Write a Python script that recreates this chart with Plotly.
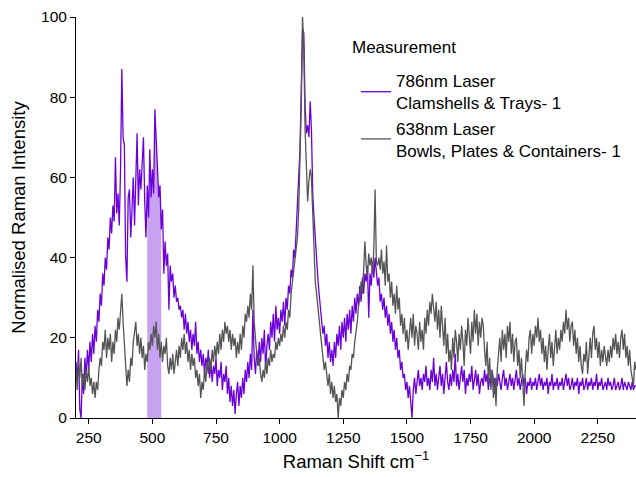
import plotly.graph_objects as go

# Raman shift axis (cm^-1), sampled every 5 cm^-1 from 200 to 2400
shift_start = 200
shift_step = 5

# 786nm laser - Clamshells & Trays- 1 (normalised intensity)
clamshells_786 = [
    14, 9, 17, 2, 0, 11, 6, 15, 10, 17, 12, 19, 14, 21, 16, 23, 19, 27, 24, 31,      # 200
    28, 36, 33, 40, 37, 45, 42, 50, 46, 53, 49, 65, 51, 56, 48, 62, 87, 70, 68, 40,  # 300
    34, 55, 57, 45, 52, 60, 48, 58, 71, 53, 62, 57, 66, 70, 54, 45, 58, 50, 67, 55,  # 400
    62, 56, 77, 68, 61, 55, 58, 47, 52, 36, 44, 38, 41, 27, 38, 34, 36, 30, 33, 29,  # 500
    30, 27, 28, 25, 27, 22, 26, 21, 24, 19, 22, 17, 21, 18, 24, 16, 19, 14, 17, 13,  # 600
    16, 11, 15, 13, 17, 10, 14, 9, 13, 11, 15, 8, 12, 10, 14, 7, 11, 9, 13, 6,       # 700
    10, 4, 8, 3, 7, 1, 6, 9, 3, 8, 5, 10, 6, 12, 9, 14, 10, 16, 12, 27,              # 800
    15, 11, 17, 13, 19, 14, 20, 16, 22, 12, 18, 21, 17, 24, 20, 26, 19, 28, 22, 25,  # 900
    21, 27, 24, 29, 23, 30, 27, 33, 31, 37, 35, 42, 40, 47, 51, 57, 67, 82, 97, 96,  # 1000
    78, 71, 73, 70, 79, 72, 56, 50, 44, 40, 35, 31, 28, 25, 21, 23, 18, 21, 15, 19,  # 1100
    14, 17, 13, 19, 15, 21, 18, 23, 17, 24, 20, 25, 19, 26, 22, 27, 21, 28, 24, 30,  # 1200
    26, 31, 28, 33, 29, 35, 31, 36, 34, 38, 25, 36, 33, 39, 35, 40, 37, 33, 35, 29,  # 1300
    31, 27, 30, 25, 28, 23, 26, 21, 24, 19, 22, 17, 20, 15, 17, 12, 14, 10, 11, 7,   # 1400
    9, 5, 8, 4, 0, 7, 10, 6, 9, 12, 8, 10, 7, 11, 9, 13, 8, 10, 7, 12,               # 1500
    9, 15, 8, 11, 7, 10, 13, 8, 11, 6, 10, 14, 9, 7, 11, 8, 12, 9, 16, 8,            # 1600
    11, 7, 10, 13, 9, 12, 6, 10, 8, 11, 9, 13, 7, 10, 12, 8, 11, 6, 9, 10,           # 1700
    8, 12, 9, 11, 7, 10, 8, 12, 9, 6, 10, 8, 11, 9, 7, 10, 12, 8, 10, 7,             # 1800
    9, 11, 8, 10, 7, 9, 12, 8, 10, 7, 9, 11, 8, 10, 6, 9, 8, 10, 7, 9,               # 1900
    8, 10, 7, 9, 11, 8, 10, 7, 9, 8, 10, 6, 9, 8, 11, 7, 9, 8, 10, 7,                # 2000
    9, 8, 10, 7, 9, 11, 8, 10, 7, 8, 10, 7, 9, 8, 10, 6, 9, 8, 10, 7,                # 2100
    8, 10, 7, 9, 8, 10, 7, 9, 8, 11, 7, 9, 8, 10, 7, 8, 9, 7, 10, 8,                 # 2200
    9, 7, 8, 10, 7, 8, 9, 7, 8, 10, 7, 9, 8, 7, 9, 8, 7, 9, 7, 8,                    # 2300
    8,                                                                               # 2400
]

# 638nm laser - Bowls, Plates & Containers- 1 (normalised intensity)
bowls_638 = [
    12, 7, 14, 10, 15, 8, 11, 7, 12, 9, 13, 8, 10, 6, 9, 5, 9, 7, 12, 15,            # 200
    13, 19, 17, 22, 15, 20, 17, 21, 14, 19, 16, 22, 19, 25, 22, 28, 31, 24, 18, 12,  # 300
    8, 12, 9, 15, 13, 19, 22, 24, 18, 21, 16, 20, 15, 18, 12, 16, 14, 19, 17, 21,    # 400
    18, 23, 20, 24, 17, 21, 15, 19, 14, 18, 16, 20, 13, 11, 15, 12, 16, 11, 14, 17,  # 500
    13, 18, 15, 20, 17, 21, 16, 19, 14, 17, 12, 16, 13, 15, 10, 12, 8, 11, 5, 9,     # 600
    7, 12, 9, 14, 11, 15, 12, 17, 14, 18, 15, 19, 16, 21, 17, 22, 19, 24, 21, 23,    # 700
    19, 22, 17, 21, 18, 20, 15, 19, 16, 21, 17, 23, 20, 26, 24, 28, 25, 31, 27, 38,  # 800
    24, 19, 16, 13, 15, 11, 9, 12, 10, 14, 11, 15, 13, 17, 14, 16, 15, 19, 17, 20,   # 900
    18, 21, 19, 23, 20, 24, 22, 27, 25, 31, 34, 36, 39, 42, 45, 52, 63, 78, 100, 92, # 1000
    72, 60, 54, 59, 62, 60, 52, 40, 34, 31, 28, 25, 22, 18, 15, 12, 14, 10, 8, 11,   # 1100
    6, 9, 5, 8, 4, 6, 0, 5, 3, 7, 5, 9, 7, 11, 9, 13, 12, 16, 15, 19,                # 1200
    21, 24, 28, 30, 34, 31, 37, 44, 38, 35, 41, 38, 40, 36, 42, 57, 39, 38, 40, 37,  # 1300
    42, 36, 39, 33, 43, 34, 36, 30, 34, 28, 31, 26, 33, 27, 30, 23, 26, 21, 25, 19,  # 1400
    22, 17, 21, 25, 20, 26, 18, 23, 21, 17, 24, 19, 22, 17, 25, 21, 27, 23, 29, 26,  # 1500
    31, 28, 24, 29, 22, 27, 20, 28, 23, 18, 25, 16, 21, 14, 17, 12, 20, 15, 22, 19,  # 1600
    14, 21, 17, 23, 19, 13, 22, 18, 25, 20, 16, 24, 19, 27, 21, 26, 18, 24, 20, 25,  # 1700
    23, 17, 13, 19, 9, 15, 7, 12, 5, 10, 3, 12, 17, 20, 14, 22, 17, 21, 15, 23,      # 1800
    19, 24, 16, 21, 14, 19, 20, 13, 17, 10, 15, 8, 3, 12, 17, 14, 20, 22, 16, 21,    # 1900
    18, 23, 20, 25, 19, 22, 16, 20, 14, 18, 12, 17, 21, 15, 19, 13, 18, 22, 16, 20,  # 2000
    17, 22, 19, 24, 21, 27, 22, 25, 19, 23, 24, 18, 22, 16, 20, 14, 18, 13, 11, 16,  # 2100
    14, 19, 11, 17, 20, 15, 21, 23, 17, 20, 15, 19, 13, 17, 14, 18, 15, 13, 17, 14,  # 2200
    18, 15, 20, 17, 21, 16, 19, 15, 20, 22, 17, 21, 15, 18, 13, 17, 12, 10, 8, 14,   # 2300
    12,                                                                              # 2400
]

raman_shift = [shift_start + shift_step * i for i in range(len(clamshells_786))]

# Highlighted band (cm^-1), shaded under the 786nm spectrum
band_lo, band_hi = 480, 535
band_x = [x for x in raman_shift if band_lo <= x <= band_hi]
band_y = [y for x, y in zip(raman_shift, clamshells_786) if band_lo <= x <= band_hi]

x_ticks = [250, 500, 750, 1000, 1250, 1500, 1750, 2000, 2250]
y_ticks = [0, 20, 40, 60, 80, 100]

purple = "#6B00DB"
grey = "#555555"
font_family = "Liberation Sans, Arial, sans-serif"

fig = go.Figure()

fig.add_trace(go.Scatter(
    x=band_x, y=band_y, mode="none", fill="tozeroy",
    fillcolor="#C7A2F0", showlegend=False, hoverinfo="skip",
))
fig.add_trace(go.Scatter(
    x=raman_shift, y=clamshells_786, mode="lines",
    line=dict(color=purple, width=1.3),
    name="786nm Laser<br>Clamshells & Trays- 1",
))
fig.add_trace(go.Scatter(
    x=raman_shift, y=bowls_638, mode="lines",
    line=dict(color=grey, width=1.3),
    name="638nm Laser<br>Bowls, Plates & Containers- 1",
))

# Legend heading placed on its own so the gap below it can be set freely
fig.add_annotation(
    text="Measurement", xref="paper", yref="paper",
    x=0.489, y=0.925, xanchor="left", yanchor="middle",
    showarrow=False, font=dict(size=17),
)

fig.update_layout(
    width=636, height=477,
    margin=dict(l=76, r=0, t=17, b=59),
    plot_bgcolor="white", paper_bgcolor="white",
    font=dict(family=font_family, size=15, color="black"),
    legend=dict(
        x=0.5, y=0.885, xanchor="left", yanchor="top",
        font=dict(size=17), bgcolor="rgba(0,0,0,0)",
        itemwidth=30, tracegroupgap=0,
    ),
    xaxis=dict(
        range=[200, 2400], tickvals=x_ticks,
        showgrid=False, zeroline=False,
        showline=True, linecolor="black", linewidth=1,
        ticks="outside", ticklen=5, tickcolor="black",
        tickfont=dict(size=15.5),
        title=dict(text="Raman Shift cm<sup>−1</sup>", font=dict(size=18.5), standoff=10),
    ),
    yaxis=dict(
        range=[0, 100], tickvals=y_ticks,
        showgrid=False, zeroline=False,
        showline=True, linecolor="black", linewidth=1,
        ticks="outside", ticklen=5, tickcolor="black",
        tickfont=dict(size=15.5),
        title=dict(text="Normalised Raman Intensity", font=dict(size=18.5), standoff=10),
    ),
)

fig.write_html("out.html")
